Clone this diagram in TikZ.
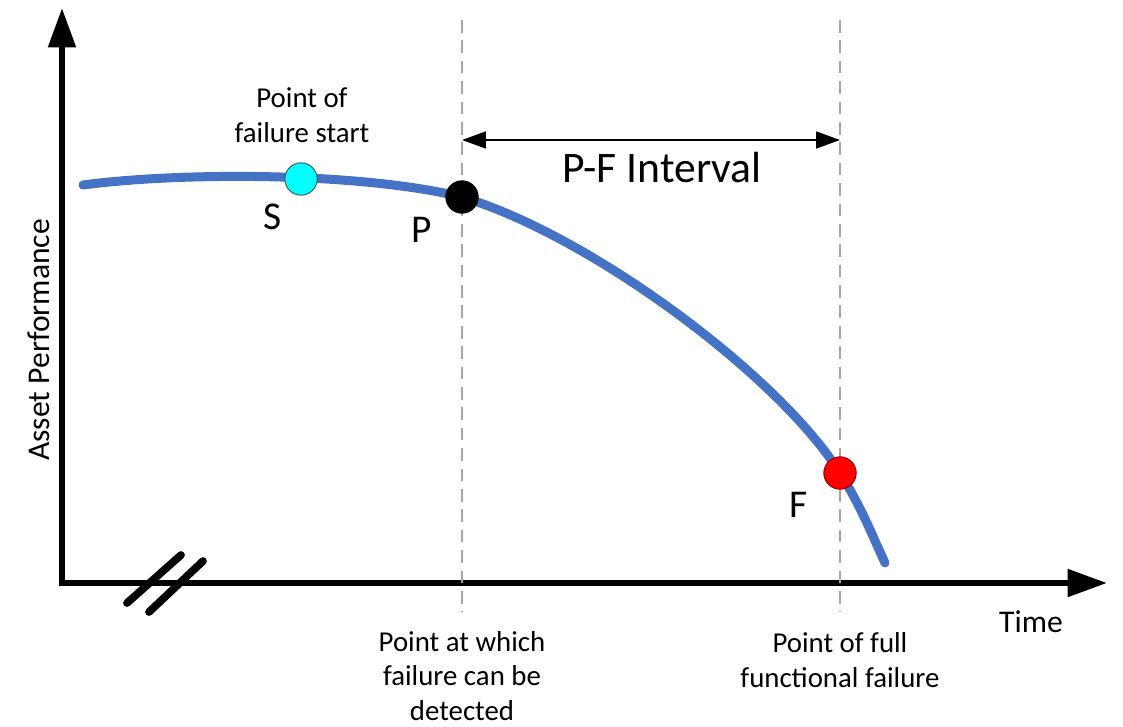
\documentclass[tikz,border=0pt]{standalone}
\usepackage{fontspec}
\setmainfont{Carlito}
\usetikzlibrary{arrows.meta}
\definecolor{curveblue}{HTML}{4472C4}
\definecolor{dashgray}{HTML}{A6A6A6}
\definecolor{pointcyan}{HTML}{00FFFF}
\definecolor{pointred}{HTML}{FF0000}
\begin{document}
\begin{tikzpicture}[x=0.025cm, y=-0.025cm,
		axis/.style={line width=4.25pt},
		guide/.style={dashgray, line width=1.4pt, dash pattern=on 9pt off 5.5pt},
		dot/.style={circle, draw, line width=0.7pt, minimum size=23pt, inner sep=0pt},
		note/.style={align=center, font=\fontsize{20.5}{24.8}\selectfont},
		letter/.style={anchor=base, font=\fontsize{28}{32}\selectfont}]
	\useasboundingbox (0,0) rectangle (1123,726);
	
	% === 坐标轴 ===
	\coordinate (ytip) at (62,8);
	\coordinate (xtip) at (1107,583);
	\draw[axis, {Triangle[length=28pt, width=19pt]}-{Triangle[length=28pt, width=19pt]}] (ytip) |- (xtip);
	\draw[line width=5.5pt, line cap=round] (127,603) -- (181,555);
	\draw[line width=5.5pt, line cap=round] (149,612) -- (203,561);
	\node[rotate=90, font=\fontsize{22.5}{27}\selectfont] (ylabel) at (39,340) {Asset Performance};
	\node[anchor=base, font=\fontsize{22.5}{27}\selectfont] (xlabel) at (1031,632) {Time};
	
	% 虚线
	\draw[guide] (462,20) -- (462,612);
	\draw[guide] (840,20) -- (840,612);
	
	% 性能曲线
	\draw[curveblue, line width=6.4pt, line cap=round]
		(83,185) .. controls (180,172) and (360,172) .. (462,197)
		.. controls (592,236) and (780,377) .. (840,473)
		.. controls (860,505) and (870,530) .. (885,563);
	
	% 各点
	\node[dot, fill=pointcyan, draw=black!70!cyan] (S) at (301,179) {};
	\node[dot, fill=black] (P) at (462,197) {};
	\node[dot, fill=pointred, draw=red!60!black] (F) at (840,473) {};
	\node[letter] (Slabel) at (273,229) {S};
	\node[letter] (Plabel) at (422,242) {P};
	\node[letter] (Flabel) at (799,517) {F};
	
	% P-F 间隔
	\coordinate (pfleft) at (462,140);
	\coordinate (pfright) at (840,140);
	\draw[line width=1.5pt, {Triangle[length=17pt, width=12pt]}-{Triangle[length=17pt, width=12pt]}] (pfleft) -- (pfright);
	\node[anchor=base, font=\fontsize{31}{37}\selectfont] (pf) at (662,182) {P-F Interval};
	
	% 说明文字
	\node[note] (start) at (302,115) {Point of\\failure start};
	\node[note] (detect) at (462,676) {Point at which\\failure can be\\detected};
	\node[note] (full) at (840,660) {Point of full\\functional failure};
\end{tikzpicture}
\end{document}
